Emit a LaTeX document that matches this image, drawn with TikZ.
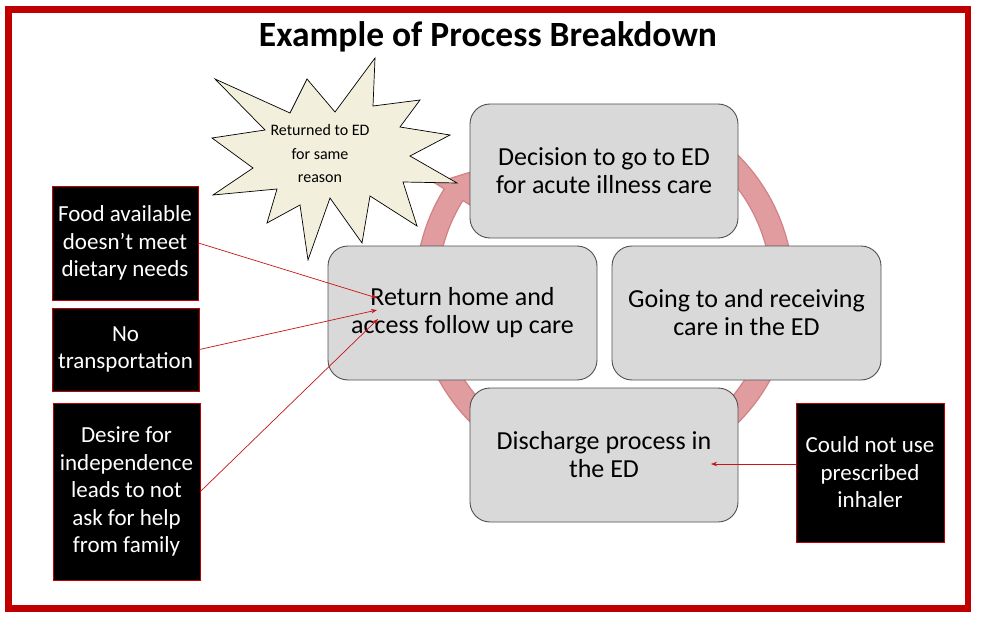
\documentclass[tikz,border=0pt]{standalone}
\usepackage{fontspec}
\setmainfont{Carlito}
\usetikzlibrary{arrows.meta}
\definecolor{frame}{RGB}{192,0,0}
\definecolor{ringfill}{RGB}{224,156,158}
\definecolor{ringedge}{RGB}{210,130,132}
\definecolor{boxgray}{RGB}{217,217,217}
\definecolor{boxedge}{RGB}{80,80,80}
\definecolor{starfill}{RGB}{242,239,220}
\definecolor{arrred}{RGB}{200,20,20}
\tikzset{
  stepbox/.style={draw=boxedge, line width=0.9pt, fill=boxgray, rounded corners=20pt,
    minimum width=268pt, minimum height=134pt, align=center, text=black,
    font=\fontsize{26}{28}\selectfont, inner sep=0pt},
  barrier/.style={draw=frame, line width=0.8pt, fill=black, text=white, align=center,
    font=\fontsize{23}{27.5}\selectfont, inner sep=0pt},
  link/.style={draw=arrred, line width=0.7pt, -{Stealth[length=6pt,width=4.5pt]}}
}
\begin{document}
\begin{tikzpicture}[x=1pt,y=-1pt]
\useasboundingbox (0,0) rectangle (981,620);
\fill[white] (0,0) rectangle (981,620);
% frame
\draw[frame, line width=6.5pt] (8.5,9.5) rectangle (968,608.5);
% title
\node[font=\fontsize{35.5}{38}\selectfont\bfseries] (title) at (488,37) {Example of Process Breakdown};
% ring arrow
\def\cx{604.5}\def\cy{289}
\filldraw[fill=ringfill, draw=ringedge, line width=1.2pt]
  plot[domain=60:-212, samples=120] ({\cx+189*cos(\x)},{\cy-189*sin(\x)})
  -- ({\cx+200*cos(-212)},{\cy-200*sin(-212)})
  -- ({\cx+178*cos(-221)},{\cy-178*sin(-221)})
  -- ({\cx+156*cos(-212)},{\cy-156*sin(-212)})
  -- plot[domain=-212:60, samples=120] ({\cx+167*cos(\x)},{\cy-167*sin(\x)})
  -- cycle;
% star
\filldraw[fill=starfill, draw=black, line width=0.7pt]
  (215,79) -- (290,113) -- (307,79) -- (335,112) -- (375,58) -- (373,106)
  -- (420,100) -- (400,127) -- (450,135) -- (410,156) -- (457,183) -- (403,182)
  -- (417,226) -- (370,196) -- (362,243) -- (330,198) -- (308,260) -- (300,205)
  -- (267,223) -- (277,189) -- (213,195) -- (253,168) -- (212,138) -- (265,130) -- cycle;
\node[align=center, font=\fontsize{16}{23.5}\selectfont] (star) at (320,154) {Returned to ED\\for same\\reason};
% process boxes
\node[stepbox] (dec) at (604,171) {Decision to go to ED\\for acute illness care};
\node[stepbox, minimum width=269pt] (ret) at (462.5,313) {Return home and\\access follow up care};
\node[stepbox, minimum width=269pt] (go) at (746.5,313) {Going to and receiving\\care in the ED};
\node[stepbox] (dis) at (604,455) {Discharge process in\\the ED};
% barrier boxes
\node[barrier, minimum width=146pt, minimum height=114pt] (food) at (125,243) {Food available\\doesn’t meet\\dietary needs};
\node[barrier, minimum width=147pt, minimum height=83pt] (trans) at (125.5,349.5) {No\\transportation};
\node[barrier, minimum width=147pt, minimum height=177pt] (indep) at (126.5,491.5) {Desire for\\independence\\leads to not\\ask for help\\from family};
\node[barrier, minimum width=148pt, minimum height=139pt] (inh) at (870,472.5) {Could not use\\prescribed\\inhaler};
% arrow targets
\coordinate (t1) at (377,298);
\coordinate (t2) at (377,310);
\coordinate (t3) at (378,319);
\coordinate (t4) at (711,464);
\draw[link] (food.east) -- (t1);
\draw[link] (trans.east) -- (t2);
\draw[link] (indep.east) -- (t3);
\draw[link] (inh.west |- t4) -- (t4);
\end{tikzpicture}
\end{document}
